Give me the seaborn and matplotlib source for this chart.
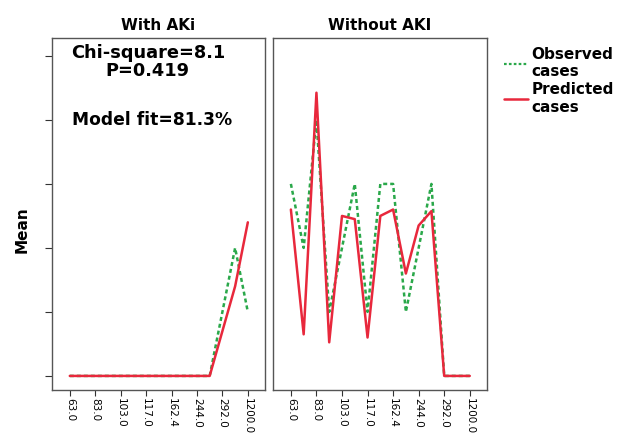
import numpy as np
import pandas as pd
import matplotlib
matplotlib.use("Agg")
import matplotlib.pyplot as plt
import seaborn as sns
from matplotlib.lines import Line2D

sns.set_style("white")
plt.rcParams['font.family'] = ['DejaVu Sans']
plt.rcParams['text.color'] = 'black'
plt.rcParams['xtick.color'] = 'black'
plt.rcParams['ytick.color'] = 'black'
plt.rcParams['axes.labelcolor'] = 'black'

# ---- data ----
tick_labels = ["63.0", "83.0", "103.0", "117.0", "162.4", "244.0", "292.0", "1200.0"]
n_groups = 15
with_aki_observed = [0, 0, 0, 0, 0, 0, 0, 0, 0, 0, 0, 0, 0.2, 0.4, 0.2]
with_aki_predicted = [0, 0, 0, 0, 0, 0, 0, 0, 0, 0, 0, 0, 0.14, 0.28, 0.48]
without_aki_observed = [0.6, 0.4, 0.8, 0.2, 0.4, 0.6, 0.2, 0.6, 0.6, 0.2, 0.4, 0.6, 0, 0, 0]
without_aki_predicted = [0.52, 0.13, 0.885, 0.105, 0.50, 0.49, 0.12, 0.50, 0.52, 0.32, 0.47, 0.515, 0, 0, 0]
panel_titles = ["With AKi", "Without AKI"]

obs_color = "#2aa84a"
pred_color = "#e8283c"

fig = plt.figure(figsize=(6.21, 4.37), dpi=100)
W, H = 621, 437
def rect(x0, y0, x1, y1):
    return [x0 / W, 1 - y1 / H, (x1 - x0) / W, (y1 - y0) / H]

ax1 = fig.add_axes(rect(52, 38, 265, 390))
ax2 = fig.add_axes(rect(273, 38, 487, 390))

positions = np.arange(n_groups)
panels = [(ax1, with_aki_observed, with_aki_predicted),
          (ax2, without_aki_observed, without_aki_predicted)]
for i, (ax, obs, pred) in enumerate(panels):
    df = pd.DataFrame({"x": positions, "obs": obs, "pred": pred})
    sns.lineplot(data=df, x="x", y="obs", ax=ax, color=obs_color, lw=1.8,
                 linestyle=(0, (1.6, 1.2)))
    sns.lineplot(data=df, x="x", y="pred", ax=ax, color=pred_color, lw=1.8)
    ax.set_xlim(-1.4, 15.35)
    ax.set_ylim(-0.044, 1.056)
    ax.set_xticks(positions[::2])
    ax.set_xticklabels(tick_labels, rotation=270, fontsize=7.5)
    ax.tick_params(axis="x", bottom=True, length=4, width=0.8, color="#333333", pad=2)
    ax.set_xlabel("")
    ax.set_ylabel("")
    for s in ax.spines.values():
        s.set_color("#555555")
        s.set_linewidth(1.0)
    ax.set_title(panel_titles[i], fontsize=11, fontweight="bold", pad=6, color="black")

ax1.set_yticks([0, 0.2, 0.4, 0.6, 0.8, 1.0])
ax1.set_yticklabels([])
ax1.tick_params(axis="y", left=True, length=5, width=0.8, color="#333333")
ax2.set_yticks([])

fig.text(22 / W, 1 - 230 / H, "Mean", rotation=90, fontsize=11, fontweight="bold",
         ha="center", va="center", color="black")

ax1.text(0.45, 0.958, "Chi-square=8.1", transform=ax1.transAxes,
         ha="center", va="center", fontsize=12.8, fontweight="bold", color="black")
ax1.text(0.45, 0.905, "P=0.419", transform=ax1.transAxes,
         ha="center", va="center", fontsize=12.8, fontweight="bold", color="black")
ax1.text(0.47, 0.768, "Model fit=81.3%", transform=ax1.transAxes,
         ha="center", va="center", fontsize=12.3, fontweight="bold", color="black")

handles = [Line2D([], [], color=obs_color, lw=1.6, linestyle=(0, (1.2, 1.0))),
           Line2D([], [], color=pred_color, lw=1.8)]
fig.legend(handles, ["Observed\ncases", "Predicted\ncases"],
           loc="upper left", bbox_to_anchor=(490 / W, 1 - 33 / H),
           frameon=False, prop={"weight": "bold", "size": 11},
           handlelength=1.6, handletextpad=0.2, labelspacing=0.2)

fig.savefig("out.png", dpi=100)
